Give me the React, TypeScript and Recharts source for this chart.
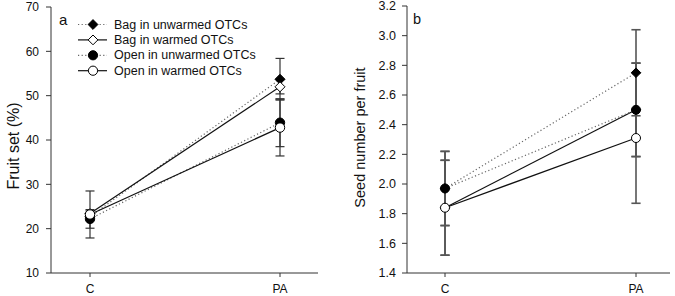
import React from "react";
import { LineChart, Line, XAxis, YAxis, ErrorBar } from "recharts";

const categories = ["C", "PA"];
const seriesNames = [
  "Bag in unwarmed OTCs",
  "Bag in warmed OTCs",
  "Open in unwarmed OTCs",
  "Open in warmed OTCs",
];

// Panel a: fruit set (%)
const fruitBagUnwarmed = [22.7, 53.7];
const fruitBagWarmed = [23.4, 52.0];
const fruitOpenUnwarmed = [22.2, 43.9];
const fruitOpenWarmed = [23.2, 42.8];
const fruitBagUnwarmedErr = [0.8, 4.7];
const fruitBagWarmedErr = [0.6, 1.6];
const fruitOpenUnwarmedErr = [2.1, 5.4];
const fruitOpenWarmedErr = [5.3, 6.4];

// Panel b: seed number per fruit
const seedBagUnwarmed = [1.97, 2.75];
const seedBagWarmed = [1.84, 2.5];
const seedOpenUnwarmed = [1.97, 2.5];
const seedOpenWarmed = [1.84, 2.31];
const seedBagUnwarmedErr = [0.25, 0.29];
const seedBagWarmedErr = [0.32, 0.315];
const seedOpenUnwarmedErr = [0.25, 0.315];
const seedOpenWarmedErr = [0.32, 0.44];

const fruitTicks = [10, 20, 30, 40, 50, 60, 70];
const seedTicks = [1.4, 1.6, 1.8, 2.0, 2.2, 2.4, 2.6, 2.8, 3.0, 3.2];

const FONT = '"Liberation Sans", Arial, Helvetica, sans-serif';

type Style = { shape: "diamond" | "circle"; filled: boolean; dashed: boolean };
const styles: Style[] = [
  { shape: "diamond", filled: true, dashed: true },
  { shape: "diamond", filled: false, dashed: false },
  { shape: "circle", filled: true, dashed: true },
  { shape: "circle", filled: false, dashed: false },
];

const fruitValues = [fruitBagUnwarmed, fruitBagWarmed, fruitOpenUnwarmed, fruitOpenWarmed];
const fruitErrors = [fruitBagUnwarmedErr, fruitBagWarmedErr, fruitOpenUnwarmedErr, fruitOpenWarmedErr];
const seedValues = [seedBagUnwarmed, seedBagWarmed, seedOpenUnwarmed, seedOpenWarmed];
const seedErrors = [seedBagUnwarmedErr, seedBagWarmedErr, seedOpenUnwarmedErr, seedOpenWarmedErr];

function buildRows(values: number[][], errors: number[][]) {
  return categories.map((cat, i) => {
    const row: any = { cat };
    values.forEach((v, s) => {
      row["s" + s] = v[i];
      row["e" + s] = errors[s][i];
    });
    return row;
  });
}

const fruitData = buildRows(fruitValues, fruitErrors);
const seedData = buildRows(seedValues, seedErrors);

function Marker({ cx, cy, st, r }: { cx: number; cy: number; st: Style; r: number }) {
  const fill = st.filled ? "#000" : "#fff";
  if (st.shape === "diamond") {
    const h = r + 0.3;
    return (
      <path
        d={`M${cx},${cy - h}L${cx + h},${cy}L${cx},${cy + h}L${cx - h},${cy}Z`}
        fill={fill}
        stroke="#000"
        strokeWidth={1}
      />
    );
  }
  return <circle cx={cx} cy={cy} r={r} fill={fill} stroke="#000" strokeWidth={1} />;
}

function lineStroke(st: Style) {
  return st.dashed
    ? { stroke: "#666", strokeWidth: 1.2, strokeDasharray: "1.2 2.4" }
    : { stroke: "#111", strokeWidth: 1.2 };
}

const tickStyle = { fill: "#111", fontSize: 12, fontFamily: FONT };

function renderSeries(errColor: string, errWidth: number, capW: number, r: number) {
  return styles.map((st, s) => (
    <Line
      key={s}
      dataKey={"s" + s}
      name={seriesNames[s]}
      isAnimationActive={false}
      {...lineStroke(st)}
      dot={(p: any) => <Marker key={`m${s}-${p.index}`} cx={p.cx} cy={p.cy} st={st} r={r} />}
      activeDot={false}
    >
      <ErrorBar
        dataKey={"e" + s}
        direction="y"
        width={capW}
        stroke={errColor}
        strokeWidth={errWidth}
        isAnimationActive={false}
      />
    </Line>
  ));
}

function YLabel(text: string, dx: number, dy: number, size: number) {
  return {
    content: (props: any) => {
      const vb = props.viewBox || {};
      const x = (vb.x || 0) + dx;
      const y = (vb.y || 0) + (vb.height || 0) / 2 + dy;
      return (
        <text
          x={x}
          y={y}
          transform={`rotate(-90, ${x}, ${y})`}
          textAnchor="middle"
          dominantBaseline="central"
          fontSize={size}
          fontFamily={FONT}
          fill="#111"
        >
          {text}
        </text>
      );
    },
  };
}

function Legend() {
  const x0 = 78;
  const x1 = 107;
  const xm = 93;
  const y0 = 24.5;
  const step = 15.4;
  return (
    <svg
      width={335}
      height={100}
      style={{ position: "absolute", left: 0, top: 0, pointerEvents: "none" }}
    >
      <text x={59} y={25} fontSize={15} fontFamily={FONT} fill="#111">
        a
      </text>
      {styles.map((st, s) => {
        const y = y0 + step * s;
        return (
          <g key={s}>
            <line x1={x0} x2={x1} y1={y} y2={y} {...lineStroke(st)} />
            <Marker cx={xm} cy={y} st={st} r={4.6} />
            <text
              x={114}
              y={y}
              dominantBaseline="central"
              fontSize={12.5}
              fontFamily={FONT}
              fill="#111"
            >
              {seriesNames[s]}
            </text>
          </g>
        );
      })}
    </svg>
  );
}

export default function App() {
  return (
    <div
      style={{
        position: "absolute",
        left: 0,
        top: 0,
        width: 675,
        height: 296,
        background: "#fff",
        overflow: "hidden",
      }}
    >
      <div style={{ position: "absolute", left: 0, top: 0 }}>
        <LineChart
          width={335}
          height={296}
          data={fruitData}
          margin={{ top: 7, right: 17, bottom: 0, left: 0 }}
        >
          <XAxis
            dataKey="cat"
            padding={{ left: 39, right: 38 }}
            height={23}
            tickSize={4}
            tickMargin={7}
            stroke="#333"
            tick={tickStyle}
            tickLine={{ stroke: "#333" }}
          />
          <YAxis
            width={51}
            domain={[10, 70]}
            ticks={fruitTicks}
            interval={0}
            tickSize={5}
            tickMargin={7}
            stroke="#333"
            tick={tickStyle}
            tickLine={{ stroke: "#333" }}
            label={YLabel("Fruit set (%)", 13, 6, 16)}
          />
          {renderSeries("#333", 1.2, 4.5, 4.7)}
        </LineChart>
        <Legend />
      </div>
      <div style={{ position: "absolute", left: 335, top: 0 }}>
        <LineChart
          width={340}
          height={296}
          data={seedData}
          margin={{ top: 6, right: 5, bottom: 0, left: 0 }}
        >
          <XAxis
            dataKey="cat"
            padding={{ left: 38, right: 34 }}
            height={23}
            tickSize={4}
            tickMargin={7}
            stroke="#333"
            tick={tickStyle}
            tickLine={{ stroke: "#333" }}
          />
          <YAxis
            width={72}
            domain={[1.4, 3.2]}
            ticks={seedTicks}
            interval={0}
            tickSize={5}
            tickMargin={6}
            stroke="#333"
            tick={{ ...tickStyle, fontSize: 12.5 }}
            tickLine={{ stroke: "#333" }}
            tickFormatter={(v: number) => v.toFixed(1)}
            label={YLabel("Seed number per fruit", 25, -2, 14.5)}
          />
          {renderSeries("#555", 1.6, 4.6, 4.5)}
        </LineChart>
        <svg
          width={340}
          height={40}
          style={{ position: "absolute", left: 0, top: 0, pointerEvents: "none" }}
        >
          <text x={78} y={24} fontSize={14.5} fontFamily={FONT} fill="#111">
            b
          </text>
        </svg>
      </div>
    </div>
  );
}
